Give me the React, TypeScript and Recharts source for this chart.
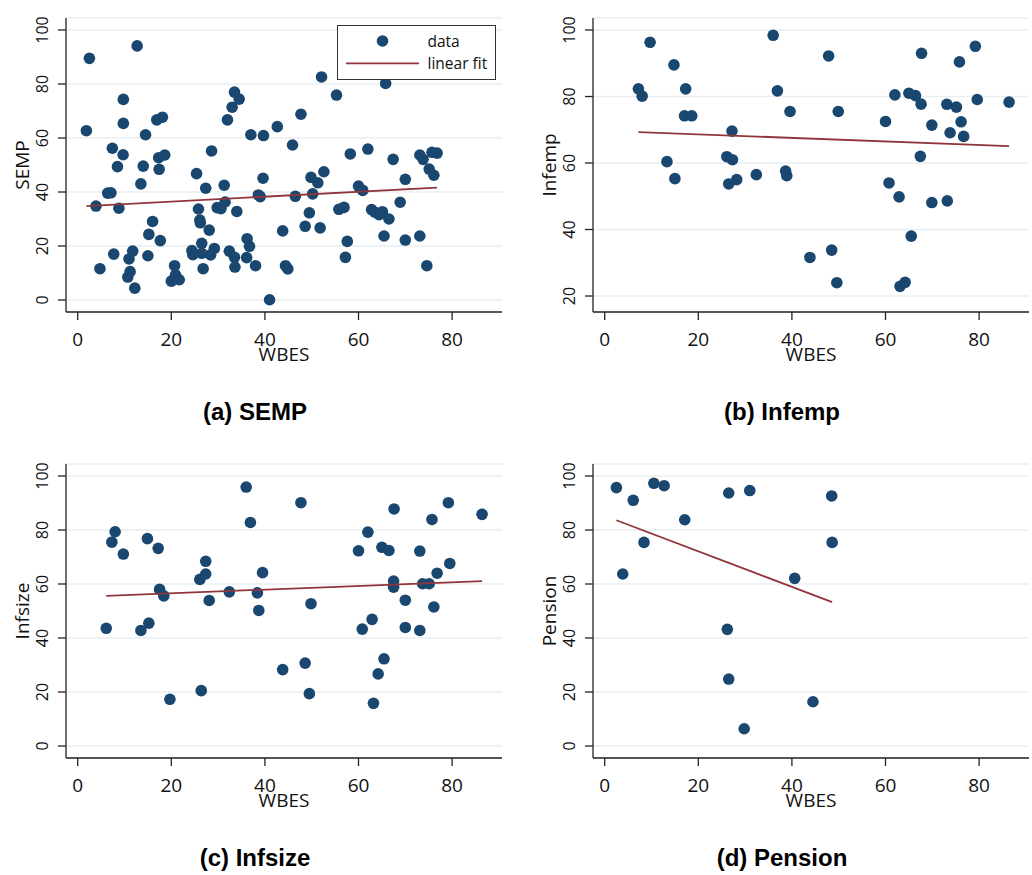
import React from 'react';
import { ScatterChart, Scatter, XAxis, YAxis, CartesianGrid, Legend, Label } from 'recharts';

const NAVY = '#1a476f';
const MAROON = '#90353b';
const GRID = '#e8eef2';
const INK = '#111';
const FONT = '"Open Sans", "Noto Sans", sans-serif';
const TITLE_FONT = '"Liberation Sans", Arial, sans-serif';

const X_TICKS = [0, 20, 40, 60, 80];
const Y_TICKS_FULL = [0, 20, 40, 60, 80, 100];
const Y_TICKS_INFEMP = [20, 40, 60, 80, 100];
const X_DOMAIN: [number, number] = [-2.5, 90.66];
const Y_DOMAIN_FULL: [number, number] = [-4.44, 104.44];
const Y_DOMAIN_INFEMP: [number, number] = [15.19, 103.61];

const X_LABEL = 'WBES';
const LEGEND_LABELS = ['data', 'linear fit'];

// (WBES, SEMP)
const SEMP_POINTS = [
  [1.85, 62.7], [2.5, 89.5], [3.9, 34.8], [4.75, 11.6], [6.4, 39.6], [7.1, 39.7], [7.4, 56.2], [7.7, 17.0],
  [8.5, 49.4], [8.8, 34.0], [9.75, 74.3], [9.75, 65.4], [9.7, 53.8], [11.75, 18.1], [10.96, 15.2], [11.2, 10.5],
  [10.7, 8.5], [12.2, 4.4], [12.7, 94.1], [13.5, 43.0], [14.0, 49.6], [14.5, 61.2], [15.0, 16.4], [15.2, 24.3],
  [16.0, 29.1], [17.65, 22.0], [17.4, 48.4], [17.3, 52.7], [18.6, 53.7], [16.9, 66.7], [18.1, 67.7], [20.0, 7.0],
  [20.7, 12.7], [20.9, 9.3], [21.7, 7.5], [24.4, 18.3], [24.6, 16.8], [25.4, 46.8], [25.8, 33.7], [26.1, 29.6],
  [26.2, 28.6], [26.5, 21.0], [26.5, 17.3], [26.8, 11.6], [27.35, 41.4], [28.1, 25.9], [28.6, 55.2], [28.4, 16.7],
  [29.2, 19.1], [29.8, 34.2], [30.6, 33.8], [31.5, 36.3], [31.3, 42.5], [32.0, 66.7], [33.0, 71.4], [33.5, 77.0],
  [34.5, 74.4], [34.0, 32.8], [32.4, 18.1], [33.5, 15.8], [33.6, 12.2], [36.2, 22.7], [36.7, 19.9], [36.1, 15.7],
  [38.0, 12.7], [37.0, 61.2], [38.6, 38.9], [39.0, 38.3], [39.7, 60.9], [39.6, 45.1], [42.65, 64.2], [47.7, 68.8],
  [52.1, 82.6], [55.3, 75.9], [65.8, 80.2], [45.9, 57.4], [46.5, 38.4], [49.85, 45.4], [51.3, 43.4], [52.6, 47.5],
  [50.2, 39.3], [49.5, 32.3], [48.6, 27.3], [51.8, 26.7], [43.8, 25.6], [44.4, 12.7], [44.9, 11.5], [41.0, 0.1],
  [58.25, 54.1], [62.0, 55.9], [67.4, 52.1], [73.1, 53.7], [73.8, 52.1], [75.7, 54.7], [76.8, 54.4], [75.1, 48.5],
  [76.1, 46.2], [70.0, 44.7], [60.0, 42.2], [60.9, 40.6], [55.8, 33.6], [56.9, 34.3], [62.8, 33.5], [63.5, 32.5],
  [64.4, 31.6], [65.1, 32.7], [66.5, 30.0], [68.9, 36.2], [57.6, 21.7], [57.2, 15.8], [65.45, 23.7], [70.0, 22.2],
  [73.1, 23.7], [74.6, 12.7],
];
const SEMP_FIT = [[1.85, 34.8], [76.8, 41.6]];

// (WBES, Infemp)
const INFEMP_POINTS = [
  [7.2, 82.3], [8.0, 80.1], [9.7, 96.3], [14.8, 89.5], [17.3, 82.3], [17.05, 74.2], [18.6, 74.2], [13.3, 60.4],
  [15.0, 55.3], [27.2, 69.6], [26.1, 61.9], [27.3, 61.0], [26.5, 53.7], [28.2, 55.0], [32.4, 56.5], [36.0, 98.4],
  [36.9, 81.7], [39.6, 75.5], [38.65, 57.6], [38.9, 56.2], [47.85, 92.2], [49.9, 75.5], [43.85, 31.6], [48.5, 33.8],
  [49.6, 24.0], [60.0, 72.5], [62.0, 80.5], [65.0, 81.0], [66.4, 80.25], [67.6, 77.7], [67.7, 93.0], [67.45, 62.0],
  [60.75, 54.0], [62.9, 49.8], [65.5, 38.0], [63.1, 22.9], [64.2, 24.1], [69.9, 48.1], [73.2, 48.6], [69.9, 71.4],
  [73.1, 77.65], [75.15, 76.8], [73.8, 69.1], [76.15, 72.4], [76.7, 68.0], [75.8, 90.4], [79.2, 95.1], [79.6, 79.1],
  [86.4, 78.3],
];
const INFEMP_FIT = [[7.2, 69.3], [86.4, 65.1]];

// (WBES, Infsize)
const INFSIZE_POINTS = [
  [6.1, 43.6], [7.3, 75.5], [8.0, 79.35], [9.75, 71.1], [14.9, 76.8], [17.2, 73.2], [13.5, 42.8], [15.2, 45.5],
  [17.5, 58.0], [18.4, 55.6], [19.7, 17.3], [26.4, 20.5], [26.1, 61.7], [27.35, 68.4], [27.35, 63.7], [28.1, 53.9],
  [32.4, 57.1], [36.0, 95.9], [36.9, 82.8], [38.4, 56.7], [38.7, 50.2], [39.5, 64.2], [47.7, 90.1], [49.85, 52.7],
  [43.8, 28.3], [48.6, 30.7], [49.5, 19.4], [60.0, 72.3], [62.0, 79.2], [65.0, 73.6], [66.5, 72.4], [67.6, 87.8],
  [67.5, 61.1], [67.5, 58.8], [70.0, 54.0], [60.8, 43.3], [62.9, 46.9], [65.45, 32.3], [64.2, 26.7], [63.2, 15.8],
  [70.0, 43.9], [73.1, 42.8], [73.1, 72.2], [73.7, 60.1], [75.1, 60.1], [76.1, 51.5], [75.7, 83.9], [76.8, 64.0],
  [79.5, 67.6], [79.2, 90.1], [86.4, 85.8],
];
const INFSIZE_FIT = [[6.1, 55.6], [86.4, 61.1]];

// (WBES, Pension)
const PENSION_POINTS = [
  [2.5, 95.7], [3.85, 63.7], [6.1, 91.0], [8.4, 75.4], [10.5, 97.3], [12.7, 96.4], [17.1, 83.8], [26.5, 93.7],
  [31.0, 94.6], [26.2, 43.2], [26.5, 24.8], [29.8, 6.4], [40.6, 62.1], [44.5, 16.4], [48.5, 92.6], [48.6, 75.4],
];
const PENSION_FIT = [[2.5, 83.6], [48.6, 53.3]];

const toPts = (arr: number[][]) => arr.map(([x, y]) => ({ x, y }));

const PLOT_W = 436;
const PLOT_H = 294;
const Y_AXIS_W = 66;
const X_AXIS_H = 58;
const TOP = 18;

const XTick = (props: any) => {
  const { x, y, payload } = props;
  return (
    <text x={x} y={y + 26} textAnchor="middle" fontSize={19} fill={INK} fontFamily={FONT}>
      {payload.value}
    </text>
  );
};

const YTick = (props: any) => {
  const { x, y, payload } = props;
  const bx = x - 10;
  return (
    <text x={bx} y={y} transform={`rotate(-90, ${bx}, ${y})`} textAnchor="middle" fontSize={16} fill={INK} fontFamily={FONT}>
      {payload.value}
    </text>
  );
};

const makeXLabel = (value: string) => (props: any) => {
  const vb = props.viewBox || { x: Y_AXIS_W, y: TOP + PLOT_H, width: PLOT_W, height: X_AXIS_H };
  return (
    <text x={vb.x + vb.width / 2} y={vb.y + 49} textAnchor="middle" fontSize={19} fill={INK} fontFamily={FONT}>
      {value}
    </text>
  );
};

const makeYLabel = (value: string) => (props: any) => {
  const vb = props.viewBox || { x: 0, y: TOP, width: Y_AXIS_W, height: PLOT_H };
  const bx = vb.x + vb.width - 37.5;
  const cy = vb.y + vb.height / 2;
  return (
    <text x={bx} y={cy} transform={`rotate(-90, ${bx}, ${cy})`} textAnchor="middle" fontSize={19} fill={INK} fontFamily={FONT}>
      {value}
    </text>
  );
};

const LegendBox = () => (
  <div style={{ width: 159, height: 55, boxSizing: 'border-box', border: '1.3px solid #333', background: '#fff' }}>
    <svg width={157} height={53} style={{ display: 'block' }}>
      <circle cx={44.5} cy={15} r={5.8} fill={NAVY} />
      <line x1={8} x2={81} y1={37.3} y2={37.3} stroke={MAROON} strokeWidth={1.8} />
      <text x={89.5} y={15} dominantBaseline="central" fontSize={15.5} fill={INK} fontFamily={FONT}>{LEGEND_LABELS[0]}</text>
      <text x={89.5} y={37.3} dominantBaseline="central" fontSize={15.5} fill={INK} fontFamily={FONT}>{LEGEND_LABELS[1]}</text>
    </svg>
  </div>
);

const Dot = (props: any) => <circle cx={props.cx} cy={props.cy} r={5.8} fill={NAVY} />;
const NoShape = () => <g />;

type PanelProps = {
  left: number;
  top: number;
  rightMargin: number;
  points: number[][];
  fit: number[][];
  yLabel: string;
  yTicks: number[];
  yDomain: [number, number];
  title: string;
  showLegend?: boolean;
};

function Panel({ left, top, rightMargin, points, fit, yLabel, yTicks, yDomain, title, showLegend }: PanelProps) {
  const width = Y_AXIS_W + PLOT_W + rightMargin;
  const height = TOP + PLOT_H + X_AXIS_H;
  return (
    <div style={{ position: 'absolute', left, top, width: 510, height: 430 }}>
      <ScatterChart width={width} height={height} margin={{ top: TOP, right: rightMargin, bottom: 0, left: 0 }}>
        <CartesianGrid vertical={false} stroke={GRID} strokeWidth={1.6} />
        <XAxis
          type="number"
          dataKey="x"
          domain={X_DOMAIN}
          ticks={X_TICKS}
          interval={0}
          allowDataOverflow
          height={X_AXIS_H}
          tickSize={8}
          tickMargin={0}
          axisLine={{ stroke: '#222', strokeWidth: 1.3 }}
          tickLine={{ stroke: '#222', strokeWidth: 1.3 }}
          tick={XTick}
        >
          <Label content={makeXLabel(X_LABEL)} />
        </XAxis>
        <YAxis
          type="number"
          dataKey="y"
          domain={yDomain}
          ticks={yTicks}
          interval={0}
          allowDataOverflow
          width={Y_AXIS_W}
          tickSize={8}
          tickMargin={0}
          axisLine={{ stroke: '#222', strokeWidth: 1.3 }}
          tickLine={{ stroke: '#222', strokeWidth: 1.3 }}
          tick={YTick}
        >
          <Label content={makeYLabel(yLabel)} />
        </YAxis>
        <Scatter name={LEGEND_LABELS[0]} data={toPts(points)} fill={NAVY} shape={Dot} isAnimationActive={false} />
        <Scatter
          name={LEGEND_LABELS[1]}
          data={toPts(fit)}
          fill={MAROON}
          line={{ stroke: MAROON, strokeWidth: 1.8 }}
          shape={NoShape}
          isAnimationActive={false}
        />
        {showLegend ? (
          <Legend
            layout="horizontal"
            verticalAlign="middle"
            align="center"
            wrapperStyle={{ left: 337, top: 25, width: 159, height: 55 }}
            content={LegendBox}
          />
        ) : null}
      </ScatterChart>
      <div
        style={{
          position: 'absolute',
          left: 0,
          top: 400,
          width: 510,
          textAlign: 'center',
          fontFamily: TITLE_FONT,
          fontWeight: 'bold',
          fontSize: 24,
          lineHeight: '24px',
          color: '#000',
        }}
      >
        {title}
      </div>
    </div>
  );
}

export default function App() {
  return (
    <div style={{ position: 'absolute', left: 0, top: 0, width: 1032, height: 875, background: '#fff', overflow: 'hidden', fontFamily: FONT }}>
      <Panel left={0} top={0} rightMargin={14} points={SEMP_POINTS} fit={SEMP_FIT} yLabel="SEMP"
        yTicks={Y_TICKS_FULL} yDomain={Y_DOMAIN_FULL} title="(a) SEMP" showLegend />
      <Panel left={527} top={0} rightMargin={3} points={INFEMP_POINTS} fit={INFEMP_FIT} yLabel="Infemp"
        yTicks={Y_TICKS_INFEMP} yDomain={Y_DOMAIN_INFEMP} title="(b) Infemp" />
      <Panel left={0} top={446} rightMargin={14} points={INFSIZE_POINTS} fit={INFSIZE_FIT} yLabel="Infsize"
        yTicks={Y_TICKS_FULL} yDomain={Y_DOMAIN_FULL} title="(c) Infsize" />
      <Panel left={527} top={446} rightMargin={3} points={PENSION_POINTS} fit={PENSION_FIT} yLabel="Pension"
        yTicks={Y_TICKS_FULL} yDomain={Y_DOMAIN_FULL} title="(d) Pension" />
    </div>
  );
}
